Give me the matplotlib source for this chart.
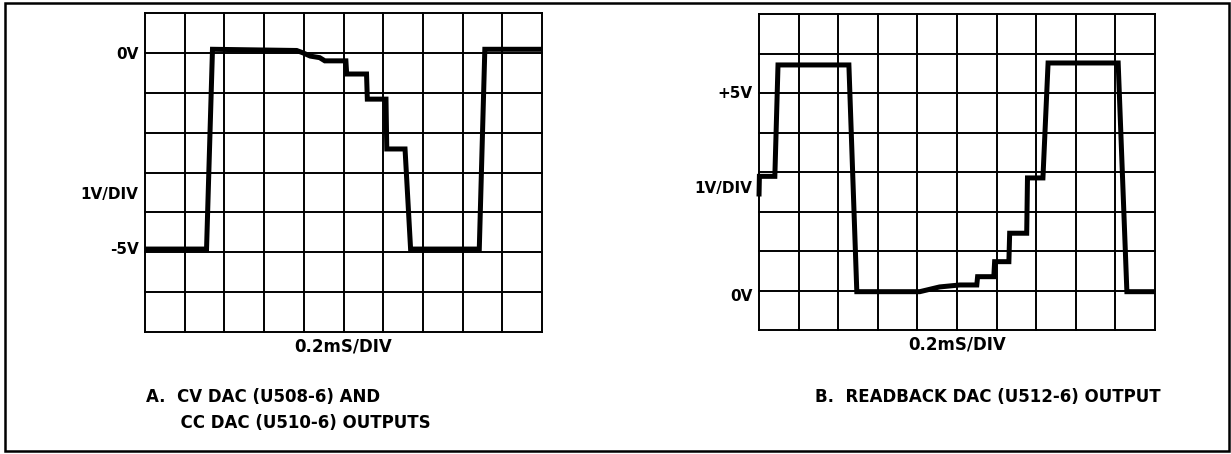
import matplotlib
matplotlib.use("Agg")
from matplotlib import pyplot as plt
from matplotlib.patches import Rectangle
import numpy as np

# time in ms (0.2 ms/div), voltage in V (1 V/div)
cv_time = [0.0, 0.310, 0.340, 0.764, 0.796, 0.832, 0.880, 0.906, 1.012, 1.016,
           1.116, 1.120, 1.214, 1.218, 1.310, 1.338, 1.684, 1.712, 2.0]
cv_volts = [-4.92, -4.92, 0.09, 0.06, 0.0, -0.08, -0.12, -0.20, -0.20, -0.53,
            -0.53, -1.16, -1.16, -2.41, -2.41, -4.92, -4.92, 0.09, 0.09]

rb_time = [0.0, 0.002, 0.080, 0.096, 0.454, 0.494, 0.812, 0.912, 1.014, 1.100,
           1.104, 1.186, 1.190, 1.262, 1.266, 1.352, 1.356, 1.434, 1.460,
           1.814, 1.858, 2.0]
rb_volts = [2.38, 2.89, 2.89, 5.71, 5.71, -0.03, -0.03, 0.09, 0.14, 0.14,
            0.35, 0.35, 0.73, 0.73, 1.45, 1.45, 2.85, 2.85, 5.76,
            5.76, -0.03, -0.03]

left_labels = [(-0.03, "0V"), (-3.54, "1V/DIV"), (-4.92, "-5V")]
right_labels = [(5.0, "+5V"), (2.59, "1V/DIV"), (-0.15, "0V")]
time_label = "0.2mS/DIV"
caption_a = "A.  CV DAC (U508-6) AND\n      CC DAC (U510-6) OUTPUTS"
caption_b = "B.  READBACK DAC (U512-6) OUTPUT"

W, H = 1231, 454
fig = plt.figure(figsize=(W / 100, H / 100), dpi=100)

# outer frame around the whole figure
fig.patches.append(Rectangle((5 / W, 3 / H), 1224 / W, 448 / H, transform=fig.transFigure,
                             fill=False, edgecolor="black", linewidth=1.8))


def scope(rect, t, v, ylim, labels):
    ax = fig.add_axes(rect)
    ax.set_xlim(0, 2.0)
    ax.set_ylim(*ylim)
    # graticule: 10 x 8 divisions
    for x in np.arange(0, 2.0001, 0.2):
        ax.axvline(x, color="black", linewidth=1.4, clip_on=False)
    for y in range(ylim[0], ylim[1] + 1):
        ax.axhline(y, color="black", linewidth=1.4, clip_on=False)
    ax.plot(t, v, color="black", linewidth=3.6, solid_joinstyle="miter",
            solid_capstyle="butt", clip_on=False)
    for spine in ax.spines.values():
        spine.set_visible(False)
    ax.set_xticks([])
    ax.set_yticks([])
    for y, txt in labels:
        ax.text(-0.016, y, txt, transform=ax.get_yaxis_transform(), ha="right", va="center",
                fontsize=11, fontweight="bold")
    ax.text(0.5, -0.045, time_label, transform=ax.transAxes, ha="center", va="center",
            fontsize=12, fontweight="bold")
    return ax


scope([145 / W, 1 - 332 / H, 397 / W, 319 / H], cv_time, cv_volts, (-7, 1), left_labels)
scope([759 / W, 1 - 330 / H, 396 / W, 316 / H], rb_time, rb_volts, (-1, 7), right_labels)

fig.text(146 / W, 1 - 388 / H, caption_a, ha="left", va="top", fontsize=12,
         fontweight="bold", linespacing=1.6)
fig.text(815 / W, 1 - 388 / H, caption_b, ha="left", va="top", fontsize=12,
         fontweight="bold")

fig.savefig("out.png", dpi=100)
